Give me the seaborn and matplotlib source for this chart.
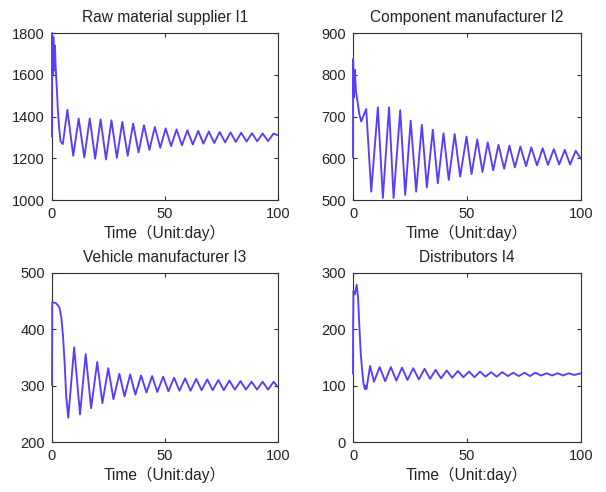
import matplotlib
matplotlib.use("Agg")
import matplotlib.pyplot as plt
import seaborn as sns
import pandas as pd

# ---------------- data ----------------
titles = ["Raw material supplier I1", "Component manufacturer I2",
          "Vehicle manufacturer I3", "Distributors I4"]
xlabel_text = "Time（Unit:day）"
x_ticks = [0, 50, 100]
y_ticks_1 = [1000, 1200, 1400, 1600, 1800]
y_ticks_2 = [500, 600, 700, 800, 900]
y_ticks_3 = [200, 300, 400, 500]
y_ticks_4 = [0, 100, 200, 300]

t1 = [0, 0.05, 0.4, 0.6, 1.0, 1.3, 1.6, 2.2, 2.6, 3.2, 3.8, 4.8,
      6.8, 9.4, 11.8, 14.3, 16.7, 19.1, 21.5, 23.9, 26.3, 28.7, 31.1, 33.5,
      35.9, 38.3, 40.7, 43.1, 45.5, 47.9, 50.3, 52.7, 55.1, 57.5, 59.9, 62.3,
      64.7, 67.0, 69.4, 71.8, 74.2, 76.6, 79.0, 81.3, 83.7, 86.1, 88.5, 90.8,
      93.2, 95.6, 98.0, 100]
v1 = [1300, 1800, 1600, 1780, 1620, 1740, 1640, 1520, 1430, 1340, 1280, 1268,
      1432, 1212, 1390, 1204, 1390, 1198, 1386, 1194, 1382, 1202, 1374, 1212,
      1366, 1228, 1358, 1240, 1350, 1250, 1343, 1258, 1338, 1262, 1334, 1266,
      1331, 1270, 1328, 1273, 1326, 1276, 1324, 1278, 1322, 1280, 1320, 1281,
      1319, 1282, 1318, 1310]

t2 = [0, 0.05, 0.4, 0.8, 1.3, 2.0, 2.8, 3.6, 5.8, 8.0, 10.9, 13.1, 15.8,
      17.8, 20.7, 22.9, 25.3, 27.7, 30.2, 32.4, 35.0, 37.2, 39.7, 42.0, 44.6,
      47.0, 49.8, 52.0, 54.5, 56.8, 59.1, 61.5, 63.8, 66.3, 68.6, 71.0, 73.4,
      75.9, 78.2, 80.7, 83.2, 85.5, 88.1, 90.4, 92.9, 95.2, 97.7, 100]
v2 = [600, 838, 745, 812, 760, 735, 705, 688, 718, 520, 722, 505, 722,
      505, 715, 512, 690, 520, 680, 530, 668, 540, 660, 548, 658,
      556, 652, 562, 645, 567, 638, 571, 632, 575, 630, 578, 628,
      581, 626, 583, 624, 584, 622, 585, 620, 585, 618, 598]

t3 = [0, 0.1, 1.5, 2.6, 3.4, 4.1, 4.9, 5.6, 6.3, 7.2, 9.8, 12.4, 14.9,
      17.3, 20.0, 22.3, 24.9, 27.2, 29.8, 32.1, 34.6, 36.9, 39.4, 41.8, 44.3,
      46.6, 49.2, 51.5, 54.0, 56.4, 58.9, 61.3, 63.8, 66.2, 68.7, 71.1, 73.6,
      76.0, 78.5, 80.9, 83.4, 85.8, 88.3, 90.7, 93.2, 95.6, 98.1, 100]
v3 = [300, 448, 447, 443, 437, 422, 387, 340, 280, 243, 368, 249, 356,
      260, 342, 269, 331, 276, 321, 281, 320, 284, 318, 288, 317,
      289, 316, 290, 314, 291, 313, 291, 312, 292, 311, 292, 310,
      292, 309, 293, 308, 293, 307, 293, 307, 293, 307, 297]

t4 = [0, 0.05, 0.2, 0.8, 1.6, 2.2, 2.8, 3.4, 4.0, 4.6, 5.2, 5.5, 5.9,
      7.5, 9.2, 11.7, 14.1, 16.6, 19.0, 21.5, 23.9, 26.4, 28.9, 31.4, 33.8,
      36.2, 38.6, 41.1, 43.5, 46.0, 48.4, 50.9, 53.3, 55.7, 58.1, 60.6, 63.0,
      65.5, 67.9, 70.3, 72.7, 75.2, 77.6, 80.0, 82.4, 84.9, 87.3, 89.8, 92.2,
      94.6, 97.0, 100]
v4 = [120, 200, 268, 262, 279, 258, 205, 157, 128, 104, 94, 100, 94,
      135, 107, 133, 108, 133, 109, 132, 110, 131, 111, 130, 112,
      128, 113, 127, 114, 126, 115, 125, 115, 125, 116, 124, 116,
      124, 117, 123, 117, 123, 117, 123, 118, 122, 118, 122, 118,
      122, 119, 122]

series = [(t1, v1, y_ticks_1), (t2, v2, y_ticks_2),
          (t3, v3, y_ticks_3), (t4, v4, y_ticks_4)]

# ---------------- styling ----------------
sns.set_theme(style="ticks")
plt.rcParams['font.family'] = ['Liberation Sans', 'Noto Sans CJK SC', 'DejaVu Sans']

line_color = "#5b3bff"
frame_color = "#303030"
text_color = "#222222"

fig = plt.figure(figsize=(6.06, 4.92), dpi=100)
fig.patch.set_facecolor("white")

W, H = 606.0, 492.0
boxes = [(52, 33, 278, 200), (353, 33, 581, 200),
         (52, 273, 278, 442), (353, 273, 581, 442)]

for (x0, y0, x1, y1), (tt, vv, yt), title in zip(boxes, series, titles):
    ax = fig.add_axes([x0 / W, 1 - y1 / H, (x1 - x0) / W, (y1 - y0) / H])
    df = pd.DataFrame({"t": tt, "v": vv})
    sns.lineplot(data=df, x="t", y="v", ax=ax, color=line_color,
                 linewidth=1.35, estimator=None, sort=False,
                 solid_joinstyle="round", solid_capstyle="butt",
                 zorder=3, clip_on=False)
    ax.set_xlim(0, 100)
    ax.set_ylim(yt[0], yt[-1])
    ax.set_xticks(x_ticks)
    ax.set_yticks(yt)
    ax.tick_params(direction="in", top=True, right=True, length=3,
                   width=0.8, labelsize=10.5, colors=frame_color,
                   labelcolor=text_color, pad=5)
    for sp in ax.spines.values():
        sp.set_visible(True)
        sp.set_color(frame_color)
        sp.set_linewidth(0.8)
        sp.set_zorder(2)
    ax.set_title(title, fontsize=11.2, pad=8, color=text_color)
    ax.set_xlabel(xlabel_text, fontsize=11.2, labelpad=3, color=text_color)
    ax.set_ylabel("")
    ax.set_facecolor("white")

fig.savefig("out.png", dpi=100, facecolor="white")
